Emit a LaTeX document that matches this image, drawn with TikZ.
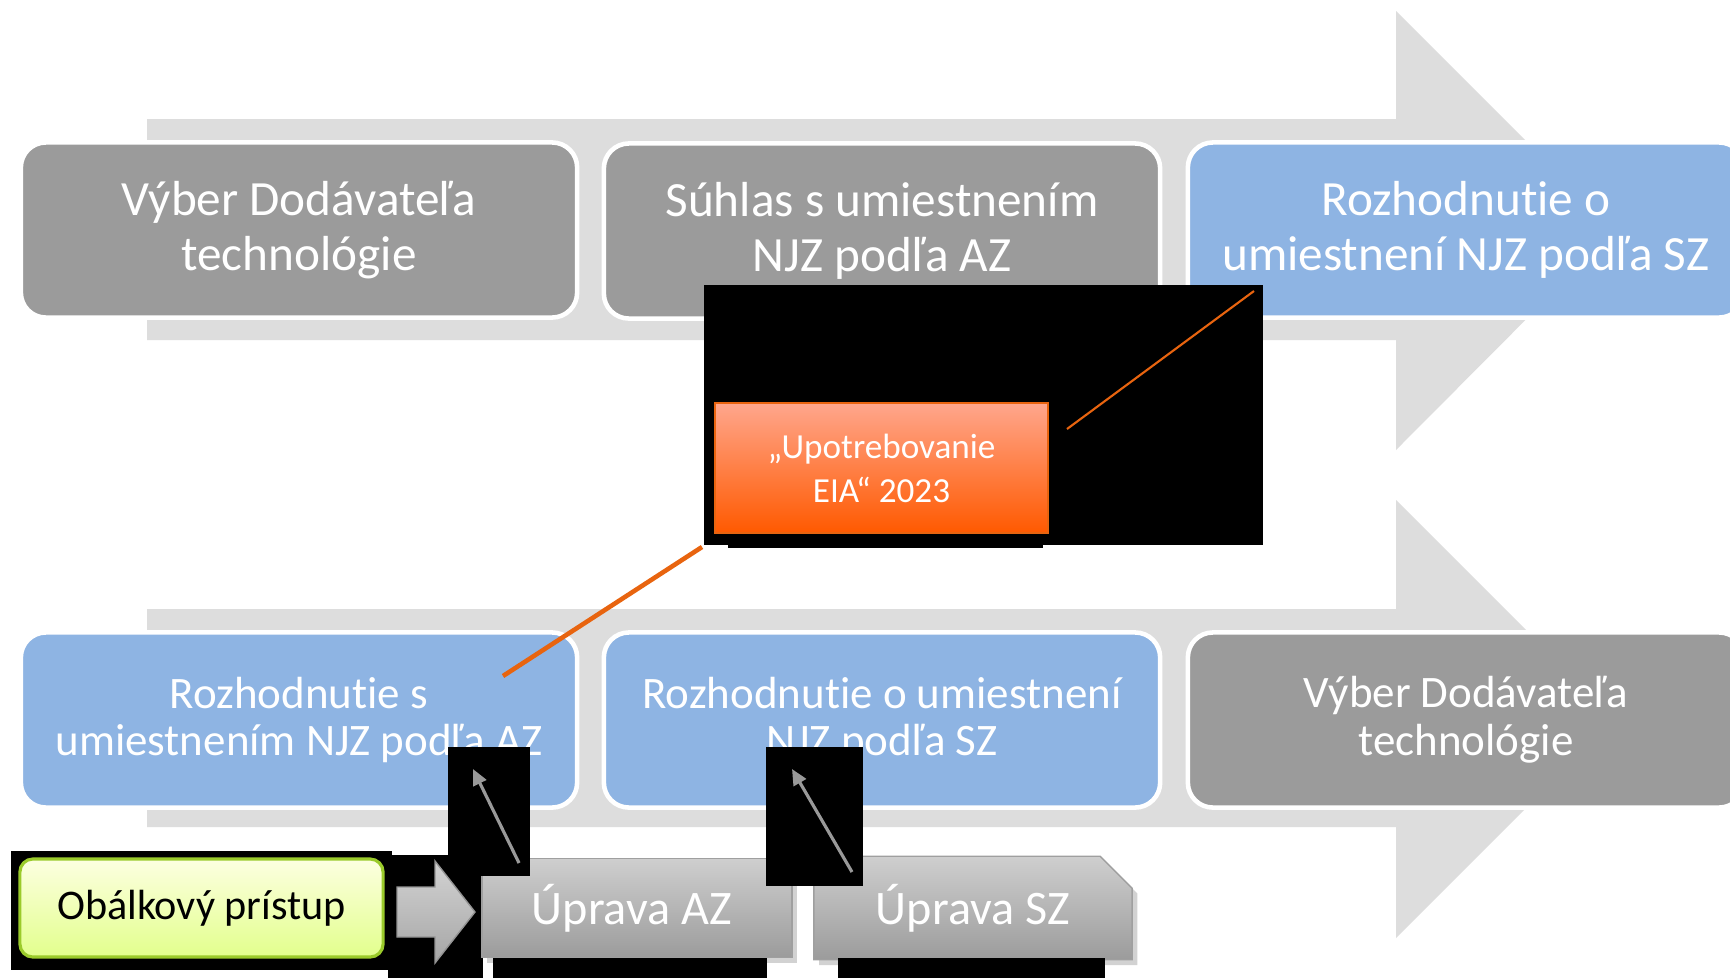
\documentclass[tikz,border=0pt]{standalone}
\usepackage{fontspec}
\setmainfont{Carlito}[Ligatures=NoCommon]
\usetikzlibrary{arrows.meta,shapes.misc,shadows}
\definecolor{stagegray}{HTML}{9B9B9B}
\definecolor{stageblue}{HTML}{8EB4E3}
\definecolor{flowgray}{HTML}{DDDDDD}
\definecolor{eiaorange}{HTML}{E8640F}
\definecolor{greenline}{HTML}{9BCB2B}
\begin{document}
\begin{tikzpicture}[x=0.01cm, y=-0.01cm,
  stage/.style={rectangle, rounded corners=2.5mm, draw=white, line width=1.3pt, text=white, align=center,
    minimum width=5.56cm, minimum height=1.75cm},
  toprow/.style={stage, font=\fontsize{14}{15.6}\selectfont},
  botrow/.style={stage, font=\fontsize{12.8}{13.6}\selectfont},
  uprava/.style={rectangle, draw=gray!75, top color=gray!38, bottom color=gray!78, text=white,
    minimum width=3.1cm, minimum height=0.99cm, font=\fontsize{13.7}{15}\selectfont,
    drop shadow={shadow xshift=1.5pt, shadow yshift=-1.5pt, opacity=0.35}},
  liftarrow/.style={-{Triangle[length=4.5pt,width=4pt]}, draw=gray!80, line width=0.9pt}]
\useasboundingbox (0,0) rectangle (1730,978);
\clip (0,0) rectangle (1730,978);
\fill[white] (0,0) rectangle (1730,978);
% the two big flow arrows
\fill[flowgray] (147,119) -- (1396,119) -- (1396,11) -- (1615,230) -- (1396,450) -- (1396,340) -- (147,340) -- cycle;
\fill[flowgray] (147,609) -- (1396,609) -- (1396,500) -- (1615,719) -- (1396,938) -- (1396,827) -- (147,827) -- cycle;
% top row
\node[toprow, fill=stagegray] (vyber1) at (299,230) {Výber Dodávateľa\\technológie};
\node[toprow, fill=stagegray] (suhlas) at (882,231) {Súhlas s umiestnením\\NJZ podľa AZ};
\node[toprow, fill=stageblue] (rozhSZ1) at (1466,230) {Rozhodnutie o\\umiestnení NJZ podľa SZ};
% bottom row
\node[botrow, fill=stageblue] (rozhAZ) at (299,720) {Rozhodnutie s\\umiestnením NJZ podľa AZ};
\node[botrow, fill=stageblue] (rozhSZ2) at (882,720) {Rozhodnutie o umiestnení\\NJZ podľa SZ};
\node[botrow, fill=stagegray] (vyber2) at (1466,720) {Výber Dodávateľa\\technológie};
% EIA callout
\fill[black] (704,285) rectangle (1263,545);
\fill[black] (728,545) rectangle (1043,548);
\node[rectangle, draw=eiaorange, top color=orange!45!red!45!white, bottom color=orange!70!red, text=white,
  align=center, minimum width=3.33cm, minimum height=1.3cm, font=\fontsize{10}{12.5}\selectfont]
  (eia) at (881.5,468) {„Upotrebovanie\\EIA“ 2023};
\coordinate (eiaC) at (1067,429);
\coordinate (eiaD) at (1254,291);
\draw[eiaorange, line width=0.6pt] (eiaC) -- (eiaD);
\coordinate (eiaA) at (503,676);
\coordinate (eiaB) at (702,547);
\draw[eiaorange, line width=1.3pt] (eiaA) -- (eiaB);
% envelope approach
\fill[black] (11,851) rectangle (392,970);
\fill[black] (388,855) rectangle (483,978);
\node[rectangle, rounded corners=1.3mm, draw=greenline, line width=0.9pt, top color=green!8!yellow!12!white,
  bottom color=green!25!yellow!45!white, minimum width=3.63cm, minimum height=0.98cm,
  font=\fontsize{12}{14}\selectfont] (obal) at (201.5,908) {Obálkový prístup};
\draw[gray!85, top color=gray!35, bottom color=gray!70]
  (397,887) -- (435,887) -- (435,861) -- (475,912) -- (435,963) -- (435,937) -- (397,937) -- cycle;
\node[uprava] (upAZ) at (637,908) {\hspace*{-3pt}\raisebox{-1.2pt}{Úprava AZ}};
\node[uprava, chamfered rectangle, chamfered rectangle corners=north east, chamfered rectangle sep=1.6mm,
  minimum width=3.18cm] (upSZ) at (973,908) {\raisebox{-1.2pt}{Úprava SZ}};
\fill[black] (493,958) rectangle (767,978);
\fill[black] (838,958) rectangle (1105,978);
% lift arrows
\fill[black] (448,747) rectangle (530,876);
\fill[black] (766,747) rectangle (863,886);
\coordinate (lift1s) at (519,863);
\coordinate (lift1e) at (473,769);
\coordinate (lift2s) at (852,872);
\coordinate (lift2e) at (792,769);
\draw[liftarrow] (lift1s) -- (lift1e);
\draw[liftarrow] (lift2s) -- (lift2e);
\end{tikzpicture}
\end{document}
